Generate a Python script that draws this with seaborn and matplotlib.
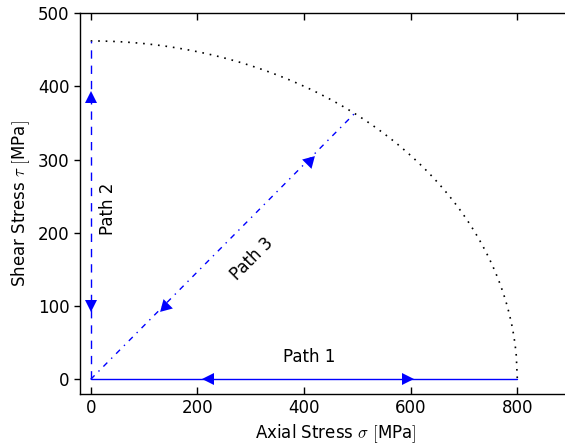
import numpy as np
import pandas as pd
import matplotlib
matplotlib.use("Agg")
import matplotlib.pyplot as plt
import seaborn as sns

# yield stress for the von Mises curve
yield_stress = 800

# path end points [MPa]
path1_sigma = [0, 800]
path1_tau = [0, 0]
path2_sigma = [0, 0]
path2_tau = [0, 462]
path3_sigma = [0, 495]
path3_tau = [0, 363]

# arrow heads (sigma, tau, marker)
arrows_sigma = [220, 595, 0, 0, 140, 410]
arrows_tau = [0, 0, 385, 100, 100, 298]
arrows_marker = ["<", ">", "^", "v", (3, 0, 135), (3, 0, -45)]
arrows_size = [9, 9, 9, 9, 11, 11]

labels = ["Path 1", "Path 2", "Path 3"]
label_sigma = [410, 32, 302]
label_tau = [30, 233, 165]
label_rot = [0, 90, 45]

sns.set_style("white")
plt.rcParams["font.family"] = ["DejaVu Sans"]
plt.rcParams["mathtext.fontset"] = "cm"
plt.rcParams["text.color"] = "black"
plt.rcParams["axes.labelcolor"] = "black"
plt.rcParams["xtick.color"] = "black"
plt.rcParams["ytick.color"] = "black"

fig = plt.figure(figsize=(5.65, 4.48), dpi=100)
ax = fig.add_axes([80 / 565, 54 / 448, 512 / 565, 381 / 448])

# von mises ellipse: sigma^2 + 3 tau^2 = Y^2
s = np.linspace(0, yield_stress, 400)
ellipse = pd.DataFrame({"sigma": s, "tau": np.sqrt((yield_stress**2 - s**2) / 3)})
sns.lineplot(data=ellipse, x="sigma", y="tau", sort=False, estimator=None, ax=ax,
             color="black", linewidth=1.2)
ax.lines[-1].set_dashes([1, 3.5])

sns.lineplot(x=path1_sigma, y=path1_tau, sort=False, estimator=None, ax=ax,
             color="blue", linewidth=1)
sns.lineplot(x=path2_sigma, y=path2_tau, sort=False, estimator=None, ax=ax,
             color="blue", linewidth=1)
ax.lines[-1].set_dashes([6, 5])
sns.lineplot(x=path3_sigma, y=path3_tau, sort=False, estimator=None, ax=ax,
             color="blue", linewidth=1)
ax.lines[-1].set_dashes([4, 4, 1, 4])

for xs, ys, m, ms in zip(arrows_sigma, arrows_tau, arrows_marker, arrows_size):
    ax.plot(xs, ys, marker=m, markersize=ms, color="blue", markeredgewidth=0)

for t, xs, ys, r in zip(labels, label_sigma, label_tau, label_rot):
    ax.text(xs, ys, t, rotation=r, ha="center", va="center", fontsize=12)

ax.set_xlim(-20, 940)
ax.set_ylim(-20, 500)
ax.set_xticks([0, 200, 400, 600, 800])
ax.set_yticks([0, 100, 200, 300, 400, 500])
ax.set_xlabel(r"Axial Stress $\sigma$ $[$MPa$]$", fontsize=12)
ax.set_ylabel(r"Shear Stress $\tau$ $[$MPa$]$", fontsize=12)
ax.tick_params(axis="x", direction="in", top=True, bottom=True, length=5,
               width=1, labelsize=12)
ax.tick_params(axis="y", direction="out", left=True, length=4, width=1,
               labelsize=12)
for sp in ax.spines.values():
    sp.set_color("black")
    sp.set_linewidth(1)
ax.spines["right"].set_visible(False)

fig.savefig("out.png", dpi=100)
